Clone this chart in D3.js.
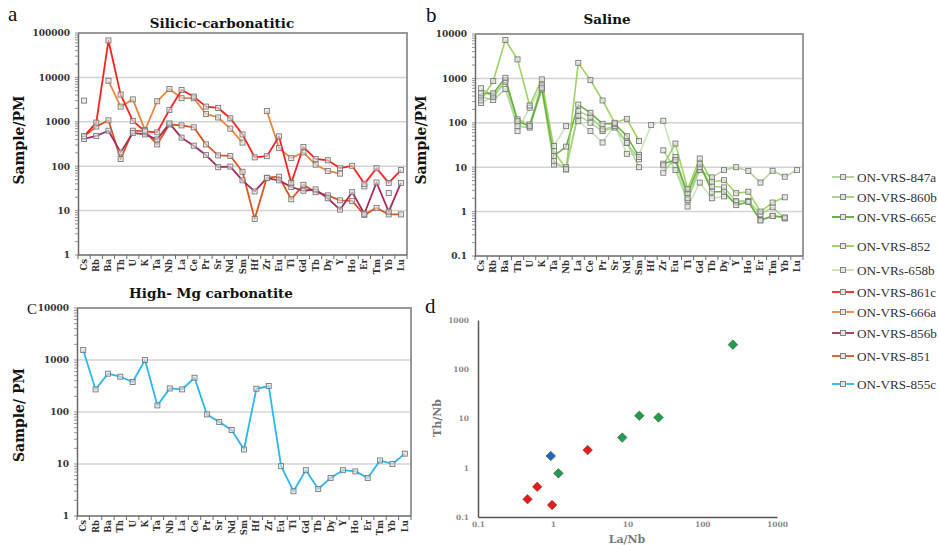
<!DOCTYPE html>
<html><head><meta charset="utf-8">
<script src="https://cdn.jsdelivr.net/npm/d3@7"></script>
<style>body{margin:0;background:#fff}svg{display:block}</style>
</head><body>
<svg id="c" width="938" height="545"></svg>
<script>
// ---------- DATA ----------
const elements = ["Cs","Rb","Ba","Th","U","K","Ta","Nb","La","Ce","Pr","Sr","Nd","Sm","Hf","Zr","Eu","Ti","Gd","Tb","Dy","Y","Ho","Er","Tm","Yb","Lu"];

// Panel a: Silicic-carbonatitic
const vrs861c = [475,960,68000,4100,1050,610,580,1850,5200,3700,2200,2050,1200,520,158,168,470,42,270,146,136,90,102,40,90,42,82];
const vrs666a = [3000,null,8400,2200,3200,650,2900,5500,3400,3400,1500,1250,700,340,null,1750,255,152,205,108,78,68,null,35,null,25,null];
const vrs856b = [410,480,630,205,560,520,400,920,440,290,178,95,98,48,27,54,48,34,28,30,19,10.5,26,8.5,43,9.5,42];
const vrs851  = [470,780,1080,145,630,610,310,870,830,750,310,175,170,75,6.5,55,58,18,38,26,22,17,16.5,8,11.5,8.2,8.2];

// Panel b: Saline
const vrs847a = [385,325,575,84,78,565,11.5,10,147,100,65,78,36,10,null,24,8.6,1.8,8.6,5.9,8.6,10,8.2,4.5,8.3,6.1,8.6];
const vrs860b = [600,385,840,120,92,730,13.7,8.9,183,137,71,84,35,15,null,7.5,17,2.0,10,3.7,3.5,1.7,1.75,0.87,1.25,0.7,null];
const vrs665c = [460,460,1030,109,84,616,18,29,257,168,95,95,50,17,null,12,14.5,2.6,12,2.8,2.8,1.4,1.65,0.63,0.8,0.74,null];
const vrs852  = [320,870,7300,2680,245,950,23,9,2240,915,318,100,123,39,null,11,34,3.2,15.7,4.7,5.1,2.6,2.8,1.0,1.6,2.1,null];
const vrs658b = [280,390,920,65,218,680,30,84,109,65,36,90,20,19,89,111,14,1.3,4.5,2.0,2.2,1.7,1.7,0.65,0.8,0.72,null];

// Panel c: High-Mg carbonatite
const vrs855c = [1560,272,545,477,377,1000,134,284,272,456,90,64,45,19,280,316,9.1,3.0,7.6,3.3,5.4,7.6,7.2,5.4,11.7,10,15.8];

// Panel d: La/Nb vs Th/Nb
const laNbGreen = [257,14.4,26,8.5,1.19];
const thNbGreen = [316,11.4,10.5,4.1,0.77];
const laNbRed = [2.93,0.62,0.46,0.98];
const thNbRed = [2.29,0.41,0.23,0.175];
const laNbBlue = [0.94];
const thNbBlue = [1.73];

const ticksA = [1,10,100,1000,10000,100000];
const ticksB = [0.1,1,10,100,1000,10000];
const ticksC = [1,10,100,1000,10000];
const ticksD = [0.1,1,10,100,1000];

const legendNames = ["ON-VRS-847a","ON-VRS-860b","ON-VRS-665c","ON-VRS-852","ON-VRs-658b","ON-VRS-861c","ON-VRS-666a","ON-VRS-856b","ON-VRS-851","ON-VRS-855c"];
const legendColors = ["#a9d18e","#9fd17c","#5ca832","#92d050","#c5e0b4","#ff2020","#e8883f","#a52a5e","#dd5522","#2ab7ee"];

// ---------- DRAW ----------
const svg = d3.select("#c");
const SERIF = "DejaVu Serif";
const fmt = d => d >= 1 ? d3.format("d")(d) : String(d);

function spider(o) {
  const g = svg.append("g");
  const x = d3.scaleBand().domain(elements).range([o.x0, o.x1]);
  const y = d3.scaleLog().domain([o.ticks[0], o.ticks[o.ticks.length-1]]).range([o.y1, o.y0]);
  const bw = x.bandwidth();
  g.selectAll("line.grid").data(o.ticks.slice(1, -1)).join("line")
    .attr("x1", o.x0).attr("x2", o.x1).attr("y1", d => y(d)).attr("y2", d => y(d))
    .attr("stroke", "#d4d4d4").attr("stroke-width", 1.5);
  g.append("path").attr("d", `M${o.x0},${o.y0}H${o.x1}V${o.y1}`)
    .attr("fill", "none").attr("stroke", "#9a9a9a").attr("stroke-width", 2);
  const ya = g.append("g").attr("transform", `translate(${o.x0},0)`)
    .call(d3.axisLeft(y).tickValues(o.ticks).tickFormat(fmt).tickSize(0).tickPadding(8));
  ya.select(".domain").attr("stroke", "#6a6a6a").attr("stroke-width", 1.5);
  ya.selectAll("text").attr("font-family", SERIF).attr("font-weight", "bold").attr("font-size", 9).attr("fill", "#333");
  g.selectAll("line.minor").data(y.ticks()).join("line")
    .attr("x1", o.x0 - 3).attr("x2", o.x0).attr("y1", d => y(d)).attr("y2", d => y(d))
    .attr("stroke", "#777").attr("stroke-width", 0.8);
  g.append("line").attr("x1", o.x0).attr("x2", o.x1).attr("y1", o.y1).attr("y2", o.y1)
    .attr("stroke", "#6a6a6a").attr("stroke-width", 1.5);
  g.selectAll("line.xt").data(d3.range(elements.length + 1)).join("line")
    .attr("x1", i => o.x0 + i * bw).attr("x2", i => o.x0 + i * bw)
    .attr("y1", o.y1).attr("y2", o.y1 + 4).attr("stroke", "#6a6a6a").attr("stroke-width", 1);
  g.selectAll("text.cat").data(elements).join("text")
    .attr("transform", d => `translate(${x(d) + bw / 2 + 3},${o.y1 + 4}) rotate(-90)`)
    .attr("text-anchor", "end").attr("font-family", SERIF).attr("font-weight", "bold")
    .attr("font-size", 8.5).attr("fill", "#333").text(d => d);
  const line = d3.line().defined(d => d != null).x((d, i) => x(elements[i]) + bw / 2).y(d => y(d));
  o.series.forEach(s => {
    g.append("path").datum(s.v).attr("d", line).attr("fill", "none")
      .attr("stroke", s.c).attr("stroke-width", o.lw).attr("stroke-opacity", o.op || 1)
      .attr("stroke-linejoin", "round");
  });
  o.series.forEach(s => {
    g.selectAll(null).data(s.v.map((v, i) => ({v, i})).filter(d => d.v != null)).join("rect")
      .attr("x", d => x(elements[d.i]) + bw / 2 - 2.5).attr("y", d => y(d.v) - 2.5)
      .attr("width", 5).attr("height", 5).attr("fill", "#e4e4e4").attr("fill-opacity", 0.6)
      .attr("stroke", "#7a7a7a").attr("stroke-width", 0.9);
  });
  svg.append("text").attr("x", o.tx).attr("y", o.ty).attr("text-anchor", "middle")
    .attr("font-family", SERIF).attr("font-weight", "bold").attr("font-size", 13.5).attr("fill", "#111").text(o.title);
  svg.append("text").attr("transform", `translate(${o.ytx},${o.yty}) rotate(-90)`).attr("text-anchor", "middle")
    .attr("font-family", SERIF).attr("font-weight", "bold").attr("font-size", 14).attr("fill", "#111").text(o.ytitle);
}

spider({x0: 78, x1: 407, y0: 33, y1: 255, ticks: ticksA, lw: 1.8,
  title: "Silicic-carbonatitic", tx: 222, ty: 28, ytitle: "Sample/PM", ytx: 24, yty: 140,
  series: [{v: vrs851, c: legendColors[8]}, {v: vrs856b, c: legendColors[7]},
           {v: vrs666a, c: legendColors[6]}, {v: vrs861c, c: legendColors[5]}]});

spider({x0: 475, x1: 803, y0: 34, y1: 256, ticks: ticksB, lw: 1.6, op: 0.9,
  title: "Saline", tx: 607, ty: 24, ytitle: "Sample/PM", ytx: 426, yty: 140,
  series: [{v: vrs658b, c: legendColors[4]}, {v: vrs847a, c: legendColors[0]},
           {v: vrs860b, c: legendColors[1]}, {v: vrs665c, c: legendColors[2]}, {v: vrs852, c: legendColors[3]}]});

spider({x0: 77, x1: 411, y0: 308, y1: 516, ticks: ticksC, lw: 1.8,
  title: "High- Mg carbonatite", tx: 211, ty: 298, ytitle: "Sample/ PM", ytx: 24, yty: 415,
  series: [{v: vrs855c, c: legendColors[9]}]});

// Panel d
(function () {
  const g = svg.append("g");
  const x = d3.scaleLog().domain([0.1, 1000]).range([478, 777]);
  const y = d3.scaleLog().domain([0.1, 1000]).range([517, 320]);
  const xa = g.append("g").attr("transform", "translate(0,517)")
    .call(d3.axisBottom(x).tickValues(ticksD).tickFormat(fmt).tickSize(0).tickPadding(5));
  const ya = g.append("g").attr("transform", "translate(478,0)")
    .call(d3.axisLeft(y).tickValues(ticksD).tickFormat(fmt).tickSize(0).tickPadding(9));
  [xa, ya].forEach(a => {
    a.select(".domain").attr("stroke", "#555").attr("stroke-width", 1.5);
    a.selectAll("text").attr("font-family", SERIF).attr("font-weight", "bold").attr("font-size", 7.5).attr("fill", "#8a8a8a");
  });
  const sym = d3.symbol().type(d3.symbolSquare).size(46);
  const groups = [
    {la: laNbGreen, th: thNbGreen, c: "#1f9e4a"},
    {la: laNbRed, th: thNbRed, c: "#ee1a1a"},
    {la: laNbBlue, th: thNbBlue, c: "#1f6ab8"}];
  groups.forEach(gr => {
    g.selectAll(null).data(gr.la.map((v, i) => [v, gr.th[i]])).join("path")
      .attr("d", sym).attr("transform", d => `translate(${x(d[0])},${y(d[1])}) rotate(45)`)
      .attr("fill", gr.c).attr("stroke", "#555").attr("stroke-width", 0.6);
  });
  svg.append("text").attr("x", 627).attr("y", 543).attr("text-anchor", "middle")
    .attr("font-family", SERIF).attr("font-weight", "bold").attr("font-size", 11).attr("fill", "#7a7a7a").text("La/Nb");
  svg.append("text").attr("transform", "translate(441,418) rotate(-90)").attr("text-anchor", "middle")
    .attr("font-family", SERIF).attr("font-weight", "bold").attr("font-size", 11).attr("fill", "#7a7a7a").text("Th/Nb");
})();

// Panel letters
[["a", 8, 21, 21], ["b", 426, 22, 21], ["C", 27, 314, 15], ["d", 425, 313, 21]].forEach(([t, px, py, fs]) => {
  svg.append("text").attr("x", px).attr("y", py).attr("font-family", "Liberation Serif")
    .attr("font-size", fs).attr("fill", "#111").text(t);
});

// Legend
const legendY = [177, 197, 217, 246, 270, 292, 312, 333, 356, 384];
const lg = svg.append("g");
legendNames.forEach((n, i) => {
  const yy = legendY[i];
  lg.append("line").attr("x1", 832).attr("x2", 854).attr("y1", yy).attr("y2", yy)
    .attr("stroke", legendColors[i]).attr("stroke-width", 1.8);
  lg.append("rect").attr("x", 840.5).attr("y", yy - 2.5).attr("width", 5).attr("height", 5)
    .attr("fill", "#e4e4e4").attr("stroke", "#7a7a7a").attr("stroke-width", 0.9);
  lg.append("text").attr("x", 857).attr("y", yy + 4.5).attr("font-family", "Liberation Serif")
    .attr("font-size", 13.2).attr("fill", "#333").text(n);
});
</script>
</body></html>
